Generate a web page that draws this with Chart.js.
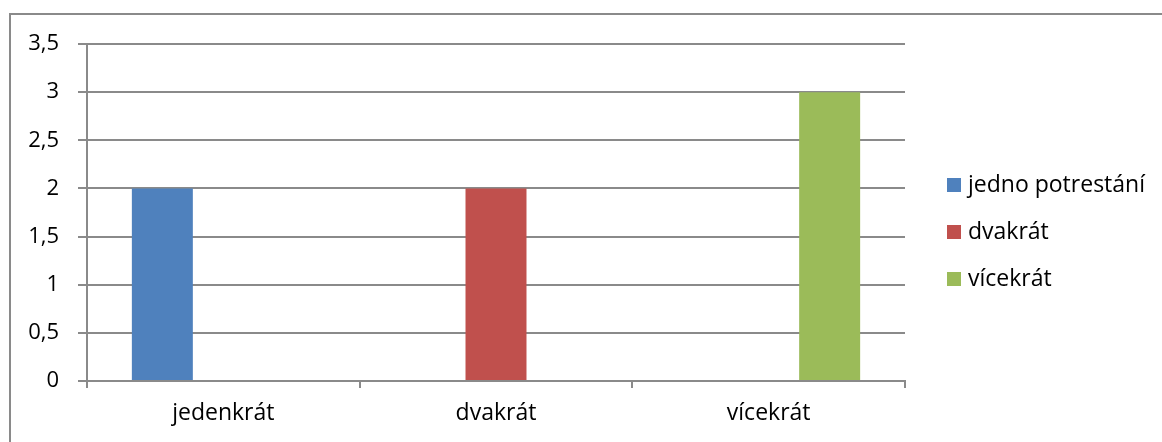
<!DOCTYPE html>
<html lang="cs">
<head>
    <meta charset="UTF-8">
    <title>Potrestání</title>
    <script src="https://cdn.jsdelivr.net/npm/chart.js"></script>
    <style>
        html, body { margin: 0; padding: 0; background: #fff; overflow: hidden; }
        .frame {
            position: absolute; left: 9px; top: 13px; width: 1300px; height: 600px;
            border-left: 2px solid #8a8a8a; border-top: 2px solid #8a8a8a;
        }
        .chart-wrapper { position: absolute; left: 0; top: 0; width: 1162px; height: 442px; }
    </style>
</head>
<body>
    <div class="frame"></div>
    <div class="chart-wrapper">
        <canvas id="chart" width="1162" height="442"></canvas>
    </div>
    <script>
        // data
        const categories = ['jedenkrát', 'dvakrát', 'vícekrát'];
        const seriesNames = ['jedno potrestání', 'dvakrát', 'vícekrát'];
        const seriesJedno = [2, null, null];
        const seriesDvakrat = [null, 2, null];
        const seriesVicekrat = [null, null, 3];
        const seriesColors = ['#4F81BD', '#C0504D', '#9BBB59'];

        const gridColor = '#8a8a8a';
        const fontFamily = '"Open Sans", "Noto Sans", sans-serif';
        const fontSize = 23;

        // legend drawn at the right, Excel style
        const sideLegend = {
            id: 'sideLegend',
            afterDraw(chart) {
                const ctx = chart.ctx;
                ctx.save();
                ctx.font = fontSize + 'px ' + fontFamily;
                ctx.textBaseline = 'middle';
                chart.data.datasets.forEach((ds, i) => {
                    const y = 185 + i * 47;
                    ctx.fillStyle = ds.backgroundColor;
                    ctx.fillRect(947, y - 7, 14, 14);
                    ctx.fillStyle = '#000';
                    ctx.fillText(ds.label, 968, y);
                });
                ctx.restore();
            }
        };

        const ctx = document.getElementById('chart').getContext('2d');
        new Chart(ctx, {
            type: 'bar',
            data: {
                labels: categories,
                datasets: [
                    { label: seriesNames[0], data: seriesJedno, backgroundColor: seriesColors[0] },
                    { label: seriesNames[1], data: seriesDvakrat, backgroundColor: seriesColors[1] },
                    { label: seriesNames[2], data: seriesVicekrat, backgroundColor: seriesColors[2] }
                ]
            },
            options: {
                responsive: false,
                animation: false,
                layout: { padding: { left: 0, right: 257, top: 44, bottom: 0 } },
                datasets: {
                    bar: { barPercentage: 1, categoryPercentage: 0.671, skipNull: false }
                },
                plugins: {
                    legend: { display: false },
                    tooltip: { enabled: false }
                },
                scales: {
                    x: {
                        grid: {
                            offset: true,
                            drawOnChartArea: false,
                            drawTicks: true,
                            tickLength: 7,
                            color: gridColor,
                            lineWidth: 2
                        },
                        border: { color: gridColor, width: 2 },
                        ticks: {
                            color: '#000',
                            padding: 12,
                            font: { family: fontFamily, size: fontSize }
                        },
                        afterFit(scale) { scale.height = 61; }
                    },
                    y: {
                        min: 0,
                        max: 3.5,
                        ticks: {
                            stepSize: 0.5,
                            color: '#000',
                            padding: 19,
                            font: { family: fontFamily, size: 22 },
                            callback: (v) => String(v).replace('.', ',')
                        },
                        grid: {
                            color: gridColor,
                            lineWidth: 2,
                            drawTicks: true,
                            tickLength: 9
                        },
                        border: { color: gridColor, width: 2 },
                        afterFit(scale) { scale.width = 87; }
                    }
                }
            },
            plugins: [sideLegend]
        });
    </script>
</body>
</html>
